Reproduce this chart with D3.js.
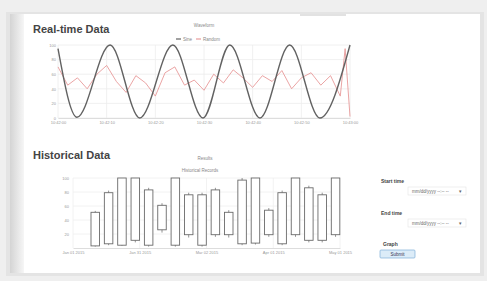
<!DOCTYPE html>
<html>
<head>
<meta charset="utf-8">
<script src="https://cdn.jsdelivr.net/npm/d3@7"></script>
<style>
  body { margin: 0; background: #ececec; font-family: "Liberation Sans", Arial, sans-serif; }
  svg { display: block; }
</style>
</head>
<body>
<div id="chart"></div>
<script>
// real-time waveform (seconds, value)
var sineTimes  = [0, 3.9, 10.7, 16.8, 23.6, 29.8, 35.3, 41.5, 47.6, 53.8, 60];
var sineValues = [95, 1, 100, 0, 100, 0, 100, 0, 100, 0, 100];
var randTimes  = [0, 2, 4, 6, 8, 10, 12, 14, 16, 18, 20, 22, 24, 26, 28, 30, 32, 34, 36, 38, 40, 42, 44, 46, 48, 50, 52, 54, 56, 58, 59, 60];
var randValues = [70, 45, 55, 40, 60, 72, 50, 35, 58, 48, 30, 62, 70, 45, 52, 38, 60, 48, 66, 55, 42, 58, 50, 65, 40, 55, 62, 45, 58, 30, 95, 2];
var rtTickVals   = [0, 10, 20, 30, 40, 50, 60];
var rtTickLabels = ["10:42:00", "10:42:10", "10:42:20", "10:42:30", "10:42:40", "10:42:50", "10:43:00"];
var rtYTicks     = [0, 20, 40, 60, 80, 100];

// historical candles
var histDates  = ["2015-01-11", "2015-01-17", "2015-01-23", "2015-01-29", "2015-02-04", "2015-02-10", "2015-02-16",
                  "2015-02-22", "2015-02-28", "2015-03-06", "2015-03-12", "2015-03-18", "2015-03-24", "2015-03-30",
                  "2015-04-05", "2015-04-11", "2015-04-17", "2015-04-23", "2015-04-29"];
var histOpen   = [3, 6, 4, 100, 4, 26, 100, 19, 4, 83, 51, 6, 100, 54, 6, 100, 86, 76, 19];
var histClose  = [51, 79, 100, 11, 83, 61, 4, 76, 76, 19, 19, 97, 7, 19, 79, 19, 11, 11, 100];
var histLow    = [2, 4, 3, 8, 2, 22, 2, 15, 2, 16, 15, 4, 5, 16, 4, 16, 8, 8, 16];
var histHigh   = [53, 82, 100, 100, 86, 64, 100, 79, 79, 86, 54, 100, 100, 57, 82, 100, 89, 79, 100];
var histTickDates  = ["2015-01-01", "2015-01-31", "2015-03-02", "2015-04-01", "2015-05-01"];
var histTickLabels = ["Jan 01 2015", "Jan 31 2015", "Mar 02 2015", "Apr 01 2015", "May 01 2015"];
var histYTicks     = [20, 40, 60, 80, 100];

var W = 487, H = 281;
var parse = d3.timeParse("%Y-%m-%d");

var svg = d3.select("#chart").append("svg")
    .attr("width", W)
    .attr("height", H);

// page card
var defs = svg.append("defs");
var grad = defs.append("linearGradient").attr("id", "edge");
grad.append("stop").attr("offset", "0%").attr("stop-color", "#d4d4d4");
grad.append("stop").attr("offset", "100%").attr("stop-color", "#f6f6f6");

svg.append("rect").attr("x", 0).attr("y", 0).attr("width", W).attr("height", H).attr("fill", "#efefef");
svg.append("rect").attr("x", 6).attr("y", 12).attr("width", 478).attr("height", 264).attr("fill", "#e4e4e4");
svg.append("rect").attr("x", 10).attr("y", 14).attr("width", 470).attr("height", 259).attr("fill", "#fff");
svg.append("rect").attr("x", 10).attr("y", 14).attr("width", 14).attr("height", 259).attr("fill", "url(#edge)");
svg.append("line").attr("x1", 300).attr("x2", 346).attr("y1", 15).attr("y2", 15)
    .attr("stroke", "#d8d8d8").attr("stroke-width", 1.5);

svg.append("text").attr("x", 33).attr("y", 33)
    .attr("font-size", 11).attr("font-weight", "bold").attr("fill", "#444")
    .text("Real-time Data");
svg.append("text").attr("x", 33).attr("y", 159)
    .attr("font-size", 11).attr("font-weight", "bold").attr("fill", "#444")
    .text("Historical Data");

// ---------- real-time chart ----------
var x1 = d3.scaleLinear().domain([0, 60]).range([58, 350]);
var y1 = d3.scaleLinear().domain([0, 100]).range([118, 45]);

var g1 = svg.append("g");

g1.selectAll(".vgrid").data(rtTickVals).enter().append("line")
    .attr("x1", function(d){ return x1(d); }).attr("x2", function(d){ return x1(d); })
    .attr("y1", y1(100)).attr("y2", y1(0))
    .attr("stroke", "#ececec").attr("stroke-width", 0.8);
g1.selectAll(".hgrid").data(rtYTicks).enter().append("line")
    .attr("x1", x1(0)).attr("x2", x1(60))
    .attr("y1", function(d){ return y1(d); }).attr("y2", function(d){ return y1(d); })
    .attr("stroke", "#ececec").attr("stroke-width", 0.8);

var xAxis1 = d3.axisBottom(x1).tickValues(rtTickVals)
    .tickFormat(function(d, i){ return rtTickLabels[i]; }).tickSize(0).tickPadding(3);
g1.append("g").attr("transform", "translate(0," + y1(0) + ")").call(xAxis1)
    .call(function(g){ g.select(".domain").attr("stroke", "#ddd"); })
    .selectAll("text").attr("font-size", 4).attr("fill", "#999");

var yAxis1 = d3.axisLeft(y1).tickValues(rtYTicks).tickSize(0).tickPadding(2);
g1.append("g").attr("transform", "translate(" + x1(0) + ",0)").call(yAxis1)
    .call(function(g){ g.select(".domain").remove(); })
    .selectAll("text").attr("font-size", 4).attr("fill", "#999");

var sineData = sineTimes.map(function(t, i){ return {t: t, v: sineValues[i]}; });
var randData = randTimes.map(function(t, i){ return {t: t, v: randValues[i]}; });

g1.append("path").datum(randData)
    .attr("fill", "none").attr("stroke", "#e89a9a").attr("stroke-width", 0.9)
    .attr("d", d3.line().x(function(d){ return x1(d.t); }).y(function(d){ return y1(d.v); }));

g1.append("path").datum(sineData)
    .attr("fill", "none").attr("stroke", "#626262").attr("stroke-width", 1.4)
    .attr("d", d3.line().curve(d3.curveMonotoneX)
        .x(function(d){ return x1(d.t); }).y(function(d){ return y1(d.v); }));

// title and legend
g1.append("text").attr("x", 204).attr("y", 27).attr("text-anchor", "middle")
    .attr("font-size", 4.5).attr("fill", "#888").text("Waveform");
var leg = g1.append("g").attr("transform", "translate(176,39)");
leg.append("line").attr("x1", 0).attr("x2", 5).attr("stroke", "#626262").attr("stroke-width", 1.2);
leg.append("text").attr("x", 7).attr("y", 1.5).attr("font-size", 4.5).attr("fill", "#888").text("Sine");
leg.append("line").attr("x1", 20).attr("x2", 25).attr("stroke", "#e89a9a").attr("stroke-width", 1.2);
leg.append("text").attr("x", 27).attr("y", 1.5).attr("font-size", 4.5).attr("fill", "#888").text("Random");

// ---------- historical chart ----------
var x2 = d3.scaleTime().domain([parse("2015-01-01"), parse("2015-05-01")]).range([73, 340]);
var y2 = d3.scaleLinear().domain([0, 100]).range([248, 178]);
var g2 = svg.append("g");

var tickDates = histTickDates.map(parse);
g2.selectAll(".vgrid").data(tickDates).enter().append("line")
    .attr("x1", function(d){ return x2(d); }).attr("x2", function(d){ return x2(d); })
    .attr("y1", y2(100)).attr("y2", y2(0))
    .attr("stroke", "#efefef").attr("stroke-width", 0.8);
g2.selectAll(".hgrid").data(histYTicks).enter().append("line")
    .attr("x1", x2.range()[0]).attr("x2", x2.range()[1])
    .attr("y1", function(d){ return y2(d); }).attr("y2", function(d){ return y2(d); })
    .attr("stroke", "#efefef").attr("stroke-width", 0.8);

var xAxis2 = d3.axisBottom(x2).tickValues(tickDates)
    .tickFormat(function(d, i){ return histTickLabels[i]; }).tickSize(0).tickPadding(3);
g2.append("g").attr("transform", "translate(0," + y2(0) + ")").call(xAxis2)
    .call(function(g){ g.select(".domain").attr("stroke", "#ddd"); })
    .selectAll("text").attr("font-size", 4).attr("fill", "#999");

var yAxis2 = d3.axisLeft(y2).tickValues(histYTicks).tickSize(0).tickPadding(4);
g2.append("g").attr("transform", "translate(" + x2.range()[0] + ",0)").call(yAxis2)
    .call(function(g){ g.select(".domain").remove(); })
    .selectAll("text").attr("font-size", 4).attr("fill", "#999");

var candles = histDates.map(function(d, i){
    return {date: parse(d), o: histOpen[i], c: histClose[i], l: histLow[i], h: histHigh[i]};
});
var bw = 8.5;

var cg = g2.selectAll(".candle").data(candles).enter().append("g").attr("class", "candle");
cg.append("line")
    .attr("x1", function(d){ return x2(d.date); }).attr("x2", function(d){ return x2(d.date); })
    .attr("y1", function(d){ return y2(d.h); }).attr("y2", function(d){ return y2(d.l); })
    .attr("stroke", "#777").attr("stroke-width", 0.8);
cg.append("rect")
    .attr("x", function(d){ return x2(d.date) - bw / 2; })
    .attr("y", function(d){ return y2(Math.max(d.o, d.c)); })
    .attr("width", bw)
    .attr("height", function(d){ return Math.abs(y2(d.o) - y2(d.c)); })
    .attr("fill", "#fff").attr("stroke", "#6a6a6a").attr("stroke-width", 0.9);

g2.append("text").attr("x", 205).attr("y", 160).attr("text-anchor", "middle")
    .attr("font-size", 4.5).attr("fill", "#888").text("Results");
g2.append("text").attr("x", 200).attr("y", 172).attr("text-anchor", "middle")
    .attr("font-size", 4.5).attr("fill", "#888").text("Historical Records");

// ---------- form controls ----------
var form = svg.append("g");
function field(label, y) {
    form.append("text").attr("x", 381).attr("y", y)
        .attr("font-size", 5).attr("font-weight", "bold").attr("fill", "#444").text(label);
    form.append("rect").attr("x", 408).attr("y", y + 4).attr("width", 58).attr("height", 8)
        .attr("fill", "#fff").attr("stroke", "#e4e4e4").attr("stroke-width", 0.6);
    form.append("text").attr("x", 412).attr("y", y + 10)
        .attr("font-size", 4.5).attr("fill", "#666").text("mm/dd/yyyy --:-- --");
    form.append("text").attr("x", 459).attr("y", y + 10)
        .attr("font-size", 4.5).attr("fill", "#666").text("▾");
}
field("Start time", 183);
field("End time", 215);
form.append("text").attr("x", 383).attr("y", 246)
    .attr("font-size", 5).attr("font-weight", "bold").attr("fill", "#444").text("Graph");
form.append("rect").attr("x", 380).attr("y", 250).attr("width", 35).attr("height", 8).attr("rx", 1)
    .attr("fill", "#dcecf8").attr("stroke", "#7fb0d8").attr("stroke-width", 0.7);
form.append("text").attr("x", 397.5).attr("y", 255.5).attr("text-anchor", "middle")
    .attr("font-size", 4.5).attr("fill", "#335").text("Submit");
</script>
</body>
</html>
